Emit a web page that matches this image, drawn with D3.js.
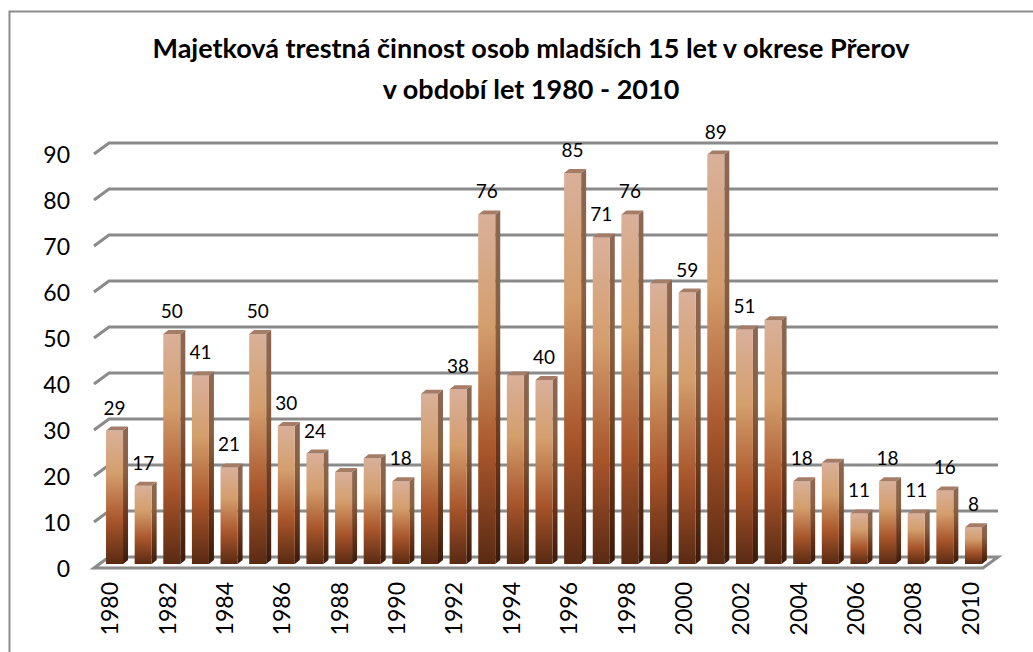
<!DOCTYPE html>
<html><head><meta charset="utf-8">
<script src="https://cdn.jsdelivr.net/npm/d3@7"></script>
<style>body{margin:0;background:#fff}svg{display:block}</style>
</head><body>
<script>
const years = d3.range(1980, 2011);
const values = [29,17,50,41,21,50,30,24,20,23,18,37,38,76,41,40,85,71,76,61,59,89,51,53,18,22,11,18,11,16,8];
const labelShown = [1,1,1,1,1,1,1,1,0,0,1,0,1,1,0,1,1,1,1,0,1,1,1,0,1,0,1,1,1,1,1];
const yTicks = [0,10,20,30,40,50,60,70,80,90];
const xTickYears = years.filter(y => y % 2 === 0);
const titleLines = ["Majetková trestná činnost osob mladších 15 let v okrese Přerov", "v období let 1980 - 2010"];

const W = 1033, H = 652;
const svg = d3.select("body").append("svg").attr("width", W).attr("height", H);
const font = "Lato, 'Liberation Sans', sans-serif";

// frame
svg.append("rect").attr("x", 9.5).attr("y", 11.5).attr("width", 1100).attr("height", 700)
  .attr("fill", "#fff").attr("stroke", "#8c8c8c").attr("stroke-width", 2);

// scales
const yFront = d3.scaleLinear().domain([0, 90]).range([568, 154]);   // floor front
const yBar = d3.scaleLinear().domain([0, 90]).range([564, 150]);     // bar front face
const DX = 15, DY = 11;       // wall depth
const floorL = 94, floorR = 983;
const xBand = d3.scaleBand().domain(years).range([94.4, 993.6]).padding(0.406);
const xSlot = d3.scaleBand().domain(years).range([floorL, floorR]);

// gradients
const defs = svg.append("defs");
function grad(id, stops) {
  const g = defs.append("linearGradient").attr("id", id).attr("x1", 0).attr("y1", 0).attr("x2", 0).attr("y2", 1);
  stops.forEach(s => g.append("stop").attr("offset", s[0]).attr("stop-color", s[1]));
}
grad("gFront", [[0, "#d9b09a"], [0.32, "#d49e6d"], [0.68, "#a8552a"], [1, "#592a13"]]);
grad("gSide", [[0, "#8e6753"], [0.32, "#8a6040"], [0.68, "#6c3519"], [1, "#3a1a0a"]]);

// grid lines (back wall + left diagonal)
const grid = svg.append("g").attr("stroke", "#8a8a8a").attr("stroke-width", 3).attr("fill", "none");
yTicks.forEach(v => {
  const yf = yFront(v);
  if (v === 0) {
    grid.append("path").attr("d",
      `M${floorL},${yf}L${floorL + DX},${yf - DY}L${floorR + DX},${yf - DY}L${floorR},${yf}Z`);
  } else {
    grid.append("path").attr("d", `M${floorL},${yf}L${floorL + DX},${yf - DY}L${floorR + DX},${yf - DY}`);
  }
});

// y labels
svg.append("g").selectAll("text").data(yTicks).join("text")
  .attr("x", 70).attr("y", d => yFront(d)).attr("text-anchor", "end")
  .attr("dominant-baseline", "central").attr("font-family", font).attr("font-size", 23)
  .attr("fill", "#000").text(d => d);

// bars
const bw = xBand.bandwidth(), bdx = 5, bdy = 4;
const bars = svg.append("g").selectAll("g").data(years.map((y, i) => ({ y, v: values[i], show: labelShown[i] }))).join("g");
bars.append("path").attr("fill", "url(#gSide)").attr("d", d => {
  const x = xBand(d.y) + bw, yt = yBar(d.v), y0 = yBar(0);
  return `M${x},${yt}L${x + bdx},${yt - bdy}L${x + bdx},${y0 - bdy}L${x},${y0}Z`;
});
bars.append("rect").attr("fill", "url(#gFront)")
  .attr("x", d => xBand(d.y)).attr("y", d => yBar(d.v)).attr("width", bw).attr("height", d => yBar(0) - yBar(d.v));
bars.append("path").attr("fill", "#a57d66").attr("d", d => {
  const x = xBand(d.y), yt = yBar(d.v);
  return `M${x},${yt}L${x + bw},${yt}L${x + bw + bdx},${yt - bdy}L${x + bdx},${yt - bdy}Z`;
});
bars.filter(d => d.show).append("text")
  .attr("x", d => xBand(d.y) + bw / 2).attr("y", d => yBar(d.v) - 16)
  .attr("text-anchor", "middle").attr("font-family", font).attr("font-size", 19).attr("fill", "#000")
  .text(d => d.v);

// x labels
svg.append("g").selectAll("text").data(xTickYears).join("text")
  .attr("transform", d => `translate(${xSlot(d) + xSlot.bandwidth() / 2 + 1},582) rotate(-90)`)
  .attr("text-anchor", "end").attr("dominant-baseline", "central")
  .attr("font-family", font).attr("font-size", 23).attr("fill", "#000").text(d => d);

// title
svg.append("g").selectAll("text").data(titleLines).join("text")
  .attr("x", 531).attr("y", (d, i) => 47 + i * 41).attr("text-anchor", "middle")
  .attr("dominant-baseline", "central").attr("font-family", font).attr("font-weight", "bold")
  .attr("font-size", 27).attr("fill", "#000").text(d => d);
</script>
</body></html>
